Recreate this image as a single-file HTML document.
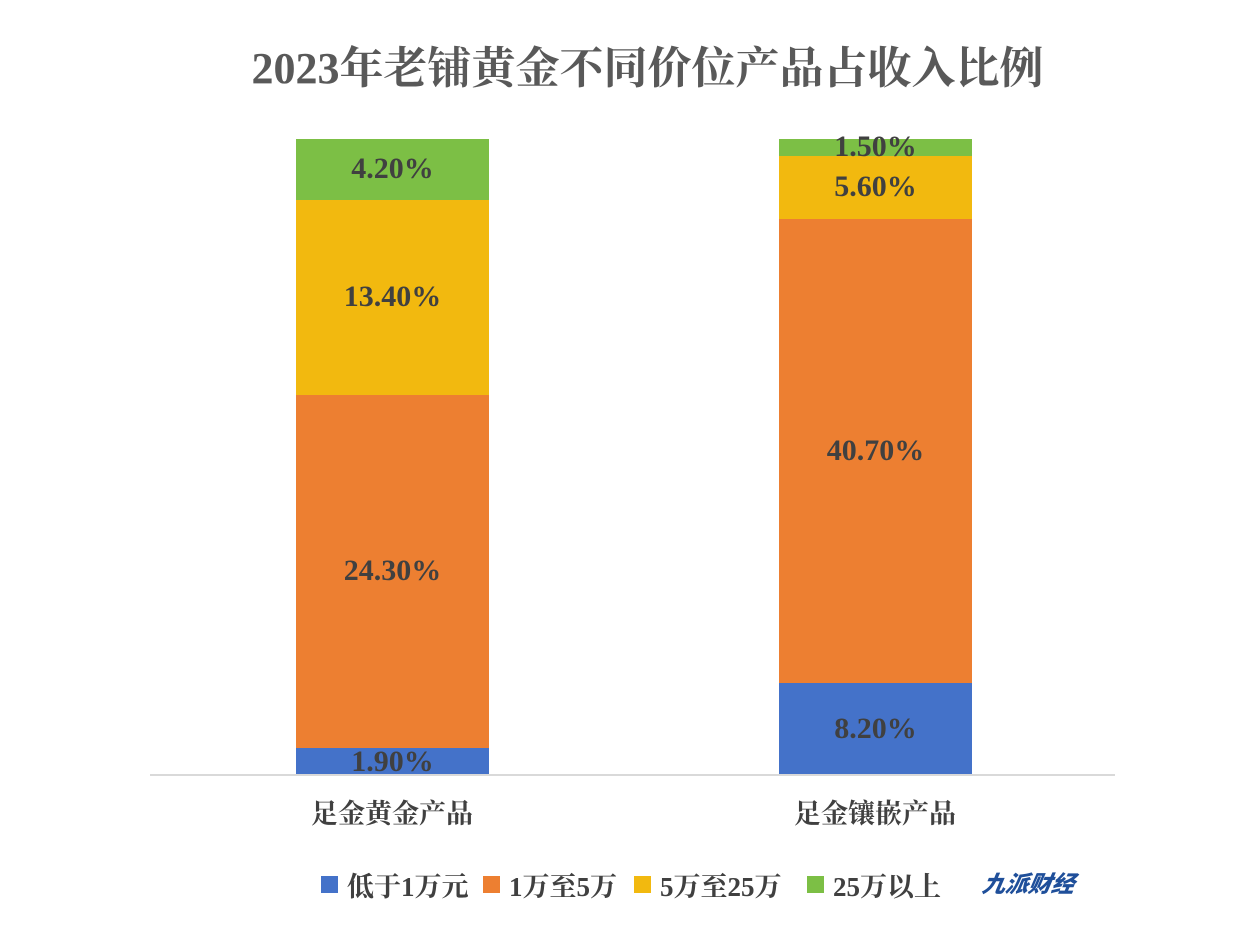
<!DOCTYPE html>
<html><head><meta charset="utf-8"><style>
body{margin:0;background:#fff;}
.c{position:relative;width:1242px;height:932px;overflow:hidden;font-family:"Liberation Serif","Noto Serif CJK SC",serif;font-weight:bold;}
.t{position:absolute;left:0;width:1295px;top:32px;text-align:center;font-size:44px;color:#595959;}
.b{position:absolute;}
.l{position:absolute;width:193px;text-align:center;font-size:30px;color:#404040;line-height:30px;}
.cat{position:absolute;top:792px;font-size:27px;color:#404040;text-align:center;width:300px;}
.lg{position:absolute;top:865px;font-size:27px;color:#404040;display:flex;align-items:center;}
.sw{display:inline-block;width:17px;height:17px;margin-right:9px;}
</style></head><body><div class="c">
<div class="t">2023年老铺黄金不同价位产品占收入比例</div>
<div class="b" style="left:296px;width:193px;top:139px;height:61px;background:#7cbf45"></div>
<div class="b" style="left:296px;width:193px;top:200px;height:195px;background:#f2b90f"></div>
<div class="b" style="left:296px;width:193px;top:395px;height:353px;background:#ed7f31"></div>
<div class="b" style="left:296px;width:193px;top:748px;height:27px;background:#4472c9"></div>
<div class="b" style="left:779px;width:193px;top:139px;height:17px;background:#7cbf45"></div>
<div class="b" style="left:779px;width:193px;top:156px;height:63px;background:#f2b90f"></div>
<div class="b" style="left:779px;width:193px;top:219px;height:464px;background:#ed7f31"></div>
<div class="b" style="left:779px;width:193px;top:683px;height:92px;background:#4472c9"></div>
<div style="position:absolute;left:150px;width:965px;top:774px;height:2px;background:#d9d9d9"></div>
<div class="l" style="left:296px;top:154px">4.20%</div>
<div class="l" style="left:296px;top:282px">13.40%</div>
<div class="l" style="left:296px;top:556px">24.30%</div>
<div class="l" style="left:296px;top:747px">1.90%</div>
<div class="l" style="left:779px;top:132px">1.50%</div>
<div class="l" style="left:779px;top:172px">5.60%</div>
<div class="l" style="left:779px;top:436px">40.70%</div>
<div class="l" style="left:779px;top:714px">8.20%</div>
<div class="cat" style="left:242px">足金黄金产品</div>
<div class="cat" style="left:725px">足金镶嵌产品</div>
<div class="lg" style="left:321px"><span class="sw" style="background:#4472c9"></span>低于1万元</div>
<div class="lg" style="left:483px"><span class="sw" style="background:#ed7f31"></span>1万至5万</div>
<div class="lg" style="left:634px"><span class="sw" style="background:#f2b90f"></span>5万至25万</div>
<div class="lg" style="left:807px"><span class="sw" style="background:#7cbf45"></span>25万以上</div>
<div style="position:absolute;left:983px;top:865px;font-family:'Noto Sans CJK SC',sans-serif;font-style:italic;font-weight:900;font-size:23px;color:#1f4f9a;transform:skewX(-10deg)">九派财经</div>
</div></body></html>
